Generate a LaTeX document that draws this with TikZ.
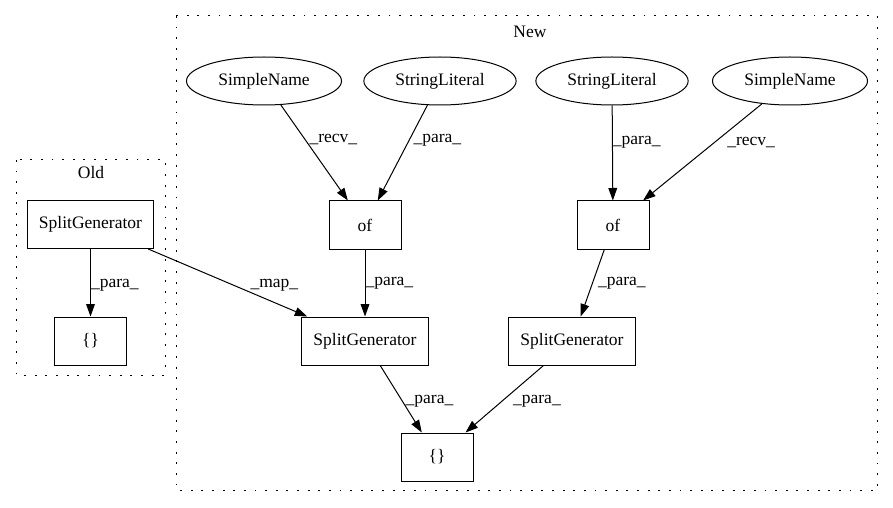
\documentclass[tikz,border=0pt]{standalone}
\usepackage{fontspec}
\setmainfont{Liberation Serif}
\usetikzlibrary{arrows.meta,shapes.geometric}
\begin{document}
\begin{tikzpicture}[x=0.8pt,y=-0.8pt,line width=0.8pt,
    every node/.style={font=\fontsize{14}{16}\selectfont},
    box/.style={draw,rectangle,minimum height=38.4pt,minimum width=57.6pt,inner xsep=9.5pt},
    oval/.style={draw,ellipse,minimum height=38.4pt,inner xsep=7.3pt},
    edge/.style={-{Triangle[length=10pt,width=7pt]}},
    lbl/.style={inner sep=0pt,anchor=west},
    cluster/.style={dash pattern=on 1.5pt off 7pt}]
    \useasboundingbox (0,0) rectangle (893,508);
    \draw[cluster] (16,160) rectangle (165,375) ; %old
    \draw[cluster] (176,16) rectangle (877,490) ; %new
    \node (oldlbl) at (91,173) {Old};
    \node (newlbl) at (530,32) {New};
    \node[box] (oldsg) at (90.5,224.5) {SplitGenerator};
    \node[box] (oldbr) at (90.5,341) {\{\}};
    \node[oval] (sn1) at (264,81) {SimpleName};
    \node[oval] (sl1) at (440,81) {StringLiteral};
    \node[oval] (sl2) at (612,81) {StringLiteral};
    \node[oval] (sn2) at (790,81) {SimpleName};
    \node[box] (of1) at (365,225) {of};
    \node[box] (of2) at (613,225) {of};
    \node[box] (sg1) at (365,341) {SplitGenerator};
    \node[box] (sg2) at (572,341) {SplitGenerator};
    \node[box] (br) at (437,457) {\{\}};
    \draw[edge] (oldsg) -- node[lbl,pos=.54] {\_para\_} (oldbr);
    \draw[edge] (oldsg) -- node[lbl,pos=.64,anchor=south west] {\_map\_} (sg1);
    \draw[edge] (sn1) -- node[lbl,pos=.365,xshift=3pt] {\_recv\_} (of1);
    \draw[edge] (sl1) -- node[lbl,pos=.365,xshift=3pt] {\_para\_} (of1);
    \draw[edge] (sl2) -- node[lbl,pos=.385] {\_para\_} (of2);
    \draw[edge] (sn2) -- node[lbl,pos=.40,xshift=10pt] {\_recv\_} (of2);
    \draw[edge] (of1) -- node[lbl,pos=.5] {\_para\_} (sg1);
    \draw[edge] (of2) -- node[lbl,pos=.5,xshift=4pt] {\_para\_} (sg2);
    \draw[edge] (sg1) -- node[lbl,pos=.54,xshift=2pt] {\_para\_} (br);
    \draw[edge] (sg2) -- node[lbl,pos=.54,xshift=9pt] {\_para\_} (br);
\end{tikzpicture}
\end{document}
